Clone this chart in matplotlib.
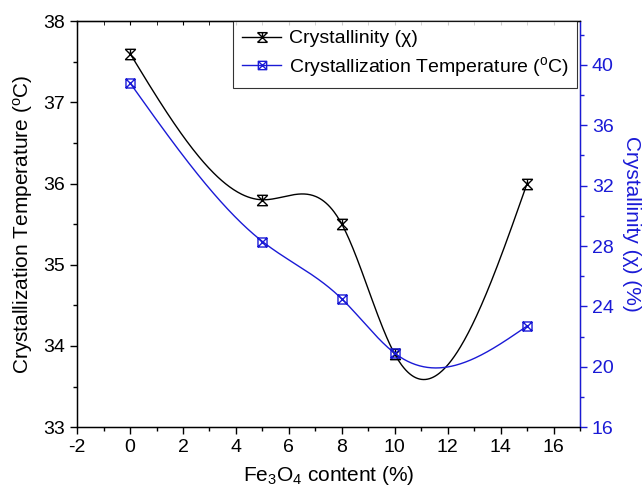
import numpy as np
import matplotlib
matplotlib.use('Agg')
import matplotlib.pyplot as plt
from matplotlib.path import Path
from matplotlib.ticker import MultipleLocator

# ---- data ----
fe3o4_content = [0, 5, 8, 10, 15]
cryst_temperature = [37.6, 35.8, 35.5, 33.9, 36.0]    # black curve, left axis
crystallinity = [38.8, 28.3, 24.5, 20.9, 22.7]        # blue curve, right axis

label_black = 'Crystallinity (χ)'
label_blue = r'Crystallization Temperature ($^{\mathregular{o}}$C)'


def natural_spline(x, y, n=400):
    x = np.asarray(x, float)
    y = np.asarray(y, float)
    m = len(x)
    h = np.diff(x)
    A = np.zeros((m, m))
    b = np.zeros(m)
    A[0, 0] = 1
    A[-1, -1] = 1
    for i in range(1, m - 1):
        A[i, i - 1] = h[i - 1]
        A[i, i] = 2 * (h[i - 1] + h[i])
        A[i, i + 1] = h[i]
        b[i] = 6 * ((y[i + 1] - y[i]) / h[i] - (y[i] - y[i - 1]) / h[i - 1])
    M = np.linalg.solve(A, b)
    xs = np.linspace(x[0], x[-1], n)
    ys = np.empty_like(xs)
    for k, xv in enumerate(xs):
        i = min(np.searchsorted(x, xv, side='right') - 1, m - 2)
        t1 = x[i + 1] - xv
        t0 = xv - x[i]
        ys[k] = (M[i] * t1 ** 3 + M[i + 1] * t0 ** 3) / (6 * h[i]) \
            + (y[i] / h[i] - M[i] * h[i] / 6) * t1 \
            + (y[i + 1] / h[i] - M[i + 1] * h[i] / 6) * t0
    return xs, ys


# custom markers
hourglass_x = Path(
    [(-1, 1), (1, 1), (-1, 1), (1, -1), (1, 1), (-1, -1), (-1, -1), (1, -1), (0, 1), (0, 0.2)],
    [Path.MOVETO, Path.LINETO, Path.MOVETO, Path.LINETO, Path.MOVETO, Path.LINETO,
     Path.MOVETO, Path.LINETO, Path.MOVETO, Path.LINETO])
square_x = Path(
    [(-1, -1), (1, -1), (1, 1), (-1, 1), (-1, -1), (-1, -1), (1, 1), (-1, 1), (1, -1)],
    [Path.MOVETO, Path.LINETO, Path.LINETO, Path.LINETO, Path.CLOSEPOLY,
     Path.MOVETO, Path.LINETO, Path.MOVETO, Path.LINETO])

plt.rcParams['font.family'] = ['Liberation Sans', 'DejaVu Sans']
plt.rcParams['mathtext.fontset'] = 'custom'
plt.rcParams['mathtext.rm'] = 'Liberation Sans'
plt.rcParams['mathtext.it'] = 'Liberation Sans:italic'
plt.rcParams['axes.unicode_minus'] = False
plt.rcParams['font.size'] = 14

BLUE = '#1a1ad6'

fig = plt.figure(figsize=(6.43, 4.91), dpi=100)
ax = fig.add_axes([0.120, 0.130, 0.782, 0.827])
ax2 = ax.twinx()

xs, ys = natural_spline(fe3o4_content, cryst_temperature)
ax.plot(xs, ys, color='black', lw=1.0, zorder=2)
ax.plot(fe3o4_content, cryst_temperature, linestyle='none', marker=hourglass_x,
        markersize=7.5, markeredgecolor='black', markerfacecolor='none', mew=1.0, zorder=3)

xs2, ys2 = natural_spline(fe3o4_content, crystallinity)
ax2.plot(xs2, ys2, color=BLUE, lw=1.0, zorder=2)
ax2.plot(fe3o4_content, crystallinity, linestyle='none', marker=square_x,
         markersize=6.5, markeredgecolor=BLUE, markerfacecolor='none', mew=1.0, zorder=3)

ax.set_xlim(-2, 17)
ax.set_ylim(33, 38)
ax2.set_ylim(16, 42.9)

ax.xaxis.set_major_locator(MultipleLocator(2))
ax.xaxis.set_minor_locator(MultipleLocator(1))
ax.yaxis.set_major_locator(MultipleLocator(1))
ax.yaxis.set_minor_locator(MultipleLocator(0.5))
ax2.yaxis.set_major_locator(MultipleLocator(4))
ax2.yaxis.set_minor_locator(MultipleLocator(2))

ax.tick_params(axis='both', which='major', direction='out', length=5, width=1, labelsize=14)
ax.tick_params(axis='both', which='minor', direction='out', length=3, width=1)
ax2.tick_params(axis='y', which='major', direction='out', length=5, width=1,
                colors=BLUE, labelsize=14)
ax2.tick_params(axis='y', which='minor', direction='out', length=3, width=1, colors=BLUE)

# top ticks inward
secx = ax.secondary_xaxis('top')
secx.xaxis.set_major_locator(MultipleLocator(2))
secx.xaxis.set_minor_locator(MultipleLocator(1))
secx.tick_params(which='both', direction='in', labeltop=False, length=3)
ax.tick_params(axis='x', which='both', top=False)

for s in ['left', 'bottom', 'top']:
    ax.spines[s].set_linewidth(1.0)
ax2.spines['right'].set_color(BLUE)
ax2.spines['right'].set_linewidth(1.0)

ax.set_xlabel(r'Fe$_\mathregular{3}$O$_\mathregular{4}$ content (%)', fontsize=15, labelpad=6)
ax.set_ylabel(r'Crystallization Temperature ($^{\mathregular{o}}$C)', fontsize=15, labelpad=6)
ax2.set_ylabel('Crystallinity (χ) (%)', fontsize=15, color=BLUE, rotation=270, labelpad=20)

h1 = plt.Line2D([], [], color='black', lw=1.0, marker=hourglass_x, markersize=7,
                markerfacecolor='none', markeredgecolor='black')
h2 = plt.Line2D([], [], color=BLUE, lw=1.0, marker=square_x, markersize=6,
                markerfacecolor='none', markeredgecolor=BLUE)
leg = ax2.legend([h1, h2], [label_black, label_blue], loc='upper right',
                 bbox_to_anchor=(0.995, 1.0), frameon=True, fancybox=False,
                 edgecolor='black', fontsize=14, handlelength=2.0, borderpad=0.45,
                 labelspacing=0.4, handletextpad=0.4, borderaxespad=0.0)
leg.get_frame().set_linewidth(0.8)

fig.savefig('out.png', dpi=100)
